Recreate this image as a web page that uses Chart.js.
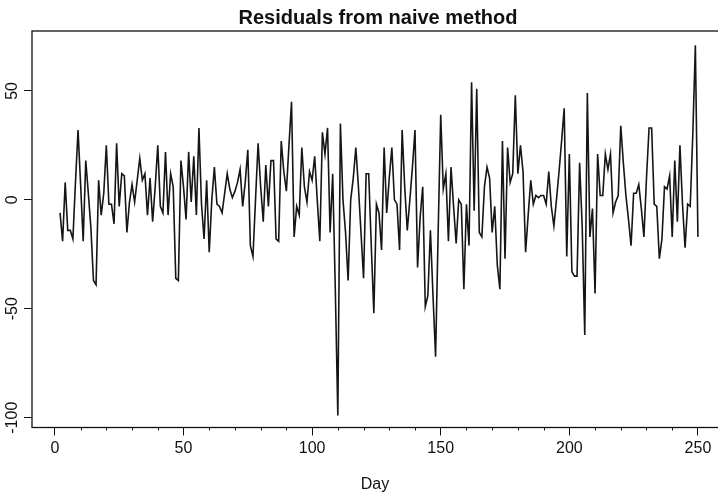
<!DOCTYPE html>
<html>
<head>
<meta charset="utf-8">
<title>Residuals from naive method</title>
<script src="https://cdn.jsdelivr.net/npm/chart.js@4.4.1/dist/chart.umd.min.js"></script>
<style>
  html, body { margin: 0; padding: 0; background: #fff; }
  #wrap { width: 718px; height: 495px; }
</style>
</head>
<body>
<div id="wrap"><canvas id="residChart" width="718" height="495"></canvas></div>
<script>
// Residuals from the naive method, one per day starting at day 2 (day 1 has none)
const firstDay = 2;
const residuals = [
  -6, -19, 8, -14, -14, -18, 8, 32, 7, -19,          // days 2-11
  18, 3, -13, -37, -39, 9, -7, 3, 25, -2,            // 12-21
  -2, -11, 26, -3, 12, 11, -15, -1, 7, -1,           // 22-31
  9, 19, 9, 12, -7, 10, -10, 6, 25, -3,              // 32-41
  -6, 22, -7, 12, 6, -36, -37, 18, 6, -9,            // 42-51
  22, -1, 20, -7, 33, -2, -18, 9, -24, 0,            // 52-61
  15, -2, -3, -6, 3, 12, 5, 1, 4, 8,                 // 62-71
  14, -3, 8, 23, -21, -26, 0, 26, 6, -10,            // 72-81
  16, -3, 18, 18, -18, -19, 27, 13, 4, 25,           // 82-91
  45, -17, -3, -7, 24, 6, -1, 13, 9, 20,             // 92-101
  0, -19, 31, 21, 33, -15, 12, -40, -99, 35,         // 102-111
  0, -15, -37, 0, 10, 24, 6, -15, -36, 12,           // 112-121
  12, -21, -52, -2, -6, -23, 24, -6, 10, 24,         // 122-131
  0, -2, -23, 32, 6, -14, 0, 15, 32, -31,            // 132-141
  -8, 6, -49, -44, -14, -44, -72, -15, 39, 5,        // 142-151
  12, -19, 15, -3, -20, 0, -2, -41, -2, -21,         // 152-161
  54, -5, 51, -15, -17, 6, 15, 10, -15, -3,          // 162-171
  -30, -41, 27, -27, 24, 8, 12, 48, 12, 25,          // 172-181
  13, -24, -7, 9, -2, 2, 1, 2, 2, -2,                // 182-191
  13, -3, -12, 0, 13, 27, 42, -26, 21, -33,          // 192-201
  -35, -35, 17, -12, -62, 49, -17, -4, -43, 21,      // 202-211
  2, 2, 21, 14, 21, -6, -1, 2, 34, 17,               // 212-221
  2, -9, -21, 3, 3, 7, -4, -17, 10, 33,              // 222-231
  33, -2, -3, -27, -18, 6, 5, 11, -17, 18,           // 232-241
  -10, 25, -2, -22, -2, -3, 30, 71, -17              // 242-250
];
const xTicks = [0, 50, 100, 150, 200, 250];
const yTicks = [-100, -50, 0, 50];
const titleText = 'Residuals from naive method';
const xTitle = 'Day';

const points = residuals.map((r, i) => ({ x: firstDay + i, y: r }));
const fontFamily = '"Liberation Sans", Arial, sans-serif';
const ink = '#111';

// box, minor ticks, rotated y labels and the main title (R base graphics look)
const frame = {
  id: 'frame',
  afterDraw(chart) {
    const { ctx, chartArea: a, scales: { x, y } } = chart;
    ctx.save();
    ctx.strokeStyle = ink;
    ctx.lineWidth = 1.3;
    ctx.strokeRect(a.left, a.top, a.right - a.left + 3, a.bottom - a.top);

    ctx.lineWidth = 1;
    for (let d = 10; d < 260; d += 10) {
      if (d % 50 === 0) continue;
      const px = Math.round(x.getPixelForValue(d)) + 0.5;
      ctx.beginPath();
      ctx.moveTo(px, a.bottom);
      ctx.lineTo(px, a.bottom + 3);
      ctx.stroke();
    }

    ctx.fillStyle = ink;
    ctx.font = '16px ' + fontFamily;
    ctx.textAlign = 'center';
    ctx.textBaseline = 'middle';
    yTicks.forEach(v => {
      ctx.save();
      ctx.translate(13, y.getPixelForValue(v));
      ctx.rotate(-Math.PI / 2);
      ctx.fillText(String(v), 0, 0);
      ctx.restore();
    });

    ctx.font = 'bold 20px ' + fontFamily;
    ctx.fillText(titleText, (a.left + a.right) / 2 + 3, 18);
    ctx.restore();
  }
};

const ctx = document.getElementById('residChart').getContext('2d');
new Chart(ctx, {
  type: 'line',
  data: {
    datasets: [{
      data: points,
      borderColor: '#151515',
      borderWidth: 1.6,
      pointRadius: 0,
      tension: 0,
      fill: false
    }]
  },
  options: {
    responsive: false,
    animation: false,
    devicePixelRatio: 1,
    layout: { padding: { top: 31, right: 0, bottom: 0, left: 0 } },
    plugins: {
      legend: { display: false },
      title: { display: false },
      tooltip: { enabled: false }
    },
    scales: {
      x: {
        type: 'linear',
        min: -8.9,
        max: 257.8,
        afterBuildTicks: s => { s.ticks = xTicks.map(v => ({ value: v })); },
        afterFit: s => { s.height = 67.5; },
        grid: { drawOnChartArea: false, drawTicks: true, tickLength: 8, color: ink },
        border: { display: false },
        ticks: { font: { size: 16, family: fontFamily }, color: ink, padding: 3, maxRotation: 0, autoSkip: false },
        title: { display: true, text: xTitle, color: ink, font: { size: 16, family: fontFamily }, padding: { top: 0, bottom: 1 } }
      },
      y: {
        type: 'linear',
        min: -104.5,
        max: 77.5,
        afterBuildTicks: s => { s.ticks = yTicks.map(v => ({ value: v })); },
        afterFit: s => { s.width = 32; },
        grid: { drawOnChartArea: false, drawTicks: true, tickLength: 8, color: ink },
        border: { display: false },
        ticks: { display: false }
      }
    }
  },
  plugins: [frame]
});
</script>
</body>
</html>
